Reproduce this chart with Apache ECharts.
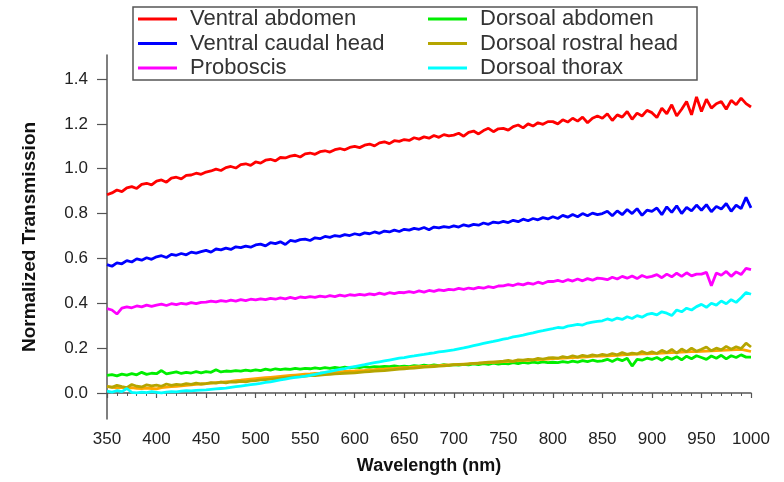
<!DOCTYPE html>
<html>
<head>
<meta charset="utf-8">
<script src="https://cdn.jsdelivr.net/npm/echarts@6/dist/echarts.min.js"></script>
<style>
  html, body { margin: 0; padding: 0; background: #fff; }
  #chart { width: 784px; height: 482px; }
</style>
</head>
<body>
<div id="chart"></div>
<script>
// sample positions (nm)
const wavelengths = [
    350, 355, 360, 365, 370, 375, 380, 385, 390, 395,
    400, 405, 410, 415, 420, 425, 430, 435, 440, 445,
    450, 455, 460, 465, 470, 475, 480, 485, 490, 495,
    500, 505, 510, 515, 520, 525, 530, 535, 540, 545,
    550, 555, 560, 565, 570, 575, 580, 585, 590, 595,
    600, 605, 610, 615, 620, 625, 630, 635, 640, 645,
    650, 655, 660, 665, 670, 675, 680, 685, 690, 695,
    700, 705, 710, 715, 720, 725, 730, 735, 740, 745,
    750, 755, 760, 765, 770, 775, 780, 785, 790, 795,
    800, 805, 810, 815, 820, 825, 830, 835, 840, 845,
    850, 855, 860, 865, 870, 875, 880, 885, 890, 895,
    900, 905, 910, 915, 920, 925, 930, 935, 940, 945,
    950, 955, 960, 965, 970, 975, 980, 985, 990, 995,
    1000,
];

const ventralAbdomen = [
    0.884, 0.892, 0.905, 0.898, 0.915, 0.92, 0.912, 0.93, 0.935, 0.928,
    0.945, 0.95, 0.94, 0.958, 0.962, 0.955, 0.97, 0.972, 0.98, 0.975,
    0.985, 0.99, 0.998, 0.992, 1.005, 1.01, 1.003, 1.018, 1.022, 1.015,
    1.03, 1.025, 1.038, 1.042, 1.035, 1.05, 1.048, 1.056, 1.06, 1.052,
    1.066, 1.07, 1.064, 1.076, 1.08, 1.074, 1.085, 1.09, 1.084, 1.095,
    1.1, 1.094, 1.105, 1.11, 1.102, 1.115, 1.12, 1.112, 1.125, 1.122,
    1.13, 1.126, 1.138, 1.132, 1.142, 1.136, 1.148, 1.14, 1.152, 1.146,
    1.15, 1.158, 1.145, 1.162, 1.168, 1.155, 1.17, 1.18, 1.165, 1.178,
    1.18, 1.172, 1.188, 1.195, 1.182, 1.2, 1.19, 1.205, 1.198, 1.21,
    1.21, 1.2, 1.218, 1.208, 1.225, 1.212, 1.23, 1.205, 1.225, 1.235,
    1.225, 1.245, 1.215, 1.24, 1.23, 1.255, 1.22, 1.248, 1.235, 1.26,
    1.25, 1.228, 1.27, 1.245, 1.285, 1.235, 1.265, 1.3, 1.24, 1.32,
    1.255, 1.31, 1.27, 1.29, 1.3, 1.265, 1.305, 1.285, 1.315, 1.29,
    1.275,
];

const ventralCaudalHead = [
    0.572, 0.565, 0.58, 0.576, 0.59, 0.584, 0.598, 0.592, 0.603, 0.596,
    0.607, 0.612, 0.604, 0.618, 0.614, 0.622, 0.616, 0.628, 0.624, 0.63,
    0.636, 0.628, 0.642, 0.638, 0.646, 0.64, 0.652, 0.648, 0.655, 0.65,
    0.66, 0.664, 0.656, 0.67, 0.666, 0.674, 0.662, 0.68, 0.676, 0.684,
    0.686, 0.68, 0.692, 0.688, 0.698, 0.694, 0.702, 0.698, 0.706, 0.702,
    0.71, 0.705, 0.714, 0.71, 0.718, 0.712, 0.722, 0.718, 0.726, 0.72,
    0.73, 0.726, 0.734, 0.73, 0.738, 0.728, 0.74, 0.736, 0.742, 0.738,
    0.745, 0.74, 0.75, 0.744, 0.752, 0.748, 0.758, 0.752, 0.762, 0.758,
    0.765, 0.76, 0.77, 0.764, 0.775, 0.768, 0.778, 0.772, 0.782, 0.776,
    0.786, 0.778, 0.792, 0.784, 0.796, 0.786, 0.8, 0.79, 0.802, 0.795,
    0.8, 0.81, 0.79, 0.812, 0.795, 0.818, 0.8, 0.822, 0.792, 0.815,
    0.81, 0.825, 0.795, 0.83, 0.805, 0.835, 0.8, 0.828, 0.812, 0.838,
    0.815, 0.84, 0.808, 0.832, 0.82, 0.845, 0.81, 0.838, 0.822, 0.872,
    0.825,
];

const proboscis = [
    0.376, 0.37, 0.352, 0.378, 0.384, 0.38, 0.388, 0.384, 0.392, 0.386,
    0.392, 0.396, 0.39, 0.398, 0.394, 0.4, 0.396, 0.403, 0.398, 0.404,
    0.405, 0.41, 0.406, 0.412, 0.408, 0.414, 0.41, 0.416, 0.412, 0.418,
    0.415, 0.42, 0.416, 0.422, 0.418, 0.424, 0.42, 0.426, 0.421, 0.428,
    0.425, 0.43, 0.426, 0.432, 0.428, 0.434, 0.43, 0.436, 0.432, 0.438,
    0.435, 0.44, 0.436, 0.442, 0.438, 0.445, 0.44, 0.447, 0.443, 0.449,
    0.447, 0.452, 0.448, 0.455, 0.45, 0.457, 0.453, 0.46, 0.456, 0.462,
    0.46, 0.466, 0.462, 0.468, 0.464, 0.471, 0.467, 0.474, 0.47, 0.477,
    0.478, 0.483, 0.479, 0.487, 0.482, 0.49, 0.485, 0.494, 0.488, 0.497,
    0.497, 0.502, 0.496, 0.505, 0.499, 0.508, 0.5, 0.51, 0.503, 0.512,
    0.51, 0.505, 0.516, 0.508, 0.52, 0.512, 0.522, 0.51, 0.524, 0.515,
    0.52, 0.528, 0.514, 0.53, 0.518, 0.534, 0.52, 0.536, 0.522, 0.53,
    0.53, 0.538, 0.478, 0.535, 0.525, 0.542, 0.52, 0.54, 0.528, 0.556,
    0.55,
];

const dorsoalAbdomen = [
    0.078, 0.082, 0.076, 0.084, 0.08, 0.086, 0.081, 0.092, 0.083, 0.088,
    0.086, 0.1, 0.085, 0.09, 0.094, 0.087, 0.092, 0.089, 0.095, 0.09,
    0.095, 0.092, 0.104, 0.094, 0.098, 0.096, 0.1, 0.097, 0.102, 0.099,
    0.103, 0.1, 0.106, 0.102, 0.108, 0.104, 0.107, 0.105, 0.11, 0.106,
    0.11, 0.108, 0.112, 0.109, 0.113, 0.11, 0.114, 0.111, 0.115, 0.112,
    0.115, 0.113, 0.117, 0.114, 0.118, 0.116, 0.119, 0.117, 0.121, 0.118,
    0.12, 0.118, 0.122, 0.12, 0.124, 0.121, 0.125, 0.122, 0.126, 0.123,
    0.126, 0.124, 0.128, 0.125, 0.13, 0.127, 0.131, 0.128, 0.133, 0.129,
    0.132, 0.13, 0.135, 0.131, 0.136, 0.133, 0.138, 0.134, 0.139, 0.135,
    0.137, 0.135, 0.14, 0.136, 0.142, 0.138, 0.144, 0.14, 0.146, 0.141,
    0.143, 0.15, 0.14, 0.152, 0.144, 0.155, 0.12, 0.15, 0.146, 0.155,
    0.15, 0.158, 0.146, 0.16, 0.15, 0.162, 0.148, 0.164, 0.153, 0.166,
    0.158, 0.15, 0.165, 0.155, 0.168, 0.152, 0.166, 0.158, 0.17, 0.16,
    0.16,
];

const dorsoalRostralHead = [
    0.03, 0.025, 0.034, 0.028, 0.024, 0.038, 0.03, 0.027, 0.036, 0.032,
    0.035, 0.03, 0.04, 0.034, 0.038, 0.036, 0.042, 0.038, 0.044, 0.04,
    0.042, 0.046, 0.044, 0.048, 0.045, 0.05, 0.048, 0.052, 0.05, 0.054,
    0.055, 0.058, 0.06, 0.062, 0.064, 0.066, 0.068, 0.07, 0.072, 0.073,
    0.075, 0.077, 0.078, 0.08, 0.082, 0.083, 0.085, 0.086, 0.088, 0.089,
    0.09, 0.092, 0.094, 0.095, 0.097, 0.099, 0.1, 0.102, 0.104, 0.106,
    0.108, 0.11, 0.111, 0.113, 0.115, 0.116, 0.118, 0.12, 0.121, 0.123,
    0.125, 0.127, 0.128, 0.13, 0.132, 0.133, 0.135, 0.137, 0.138, 0.14,
    0.142, 0.145, 0.141, 0.148, 0.146, 0.15, 0.148, 0.154, 0.151, 0.156,
    0.158, 0.155, 0.162, 0.158, 0.166, 0.16, 0.168, 0.163, 0.17, 0.166,
    0.172, 0.168, 0.176, 0.17, 0.18, 0.172, 0.178, 0.174, 0.185, 0.176,
    0.183, 0.176, 0.19, 0.18, 0.194, 0.178, 0.196, 0.184, 0.2, 0.186,
    0.195, 0.205, 0.188, 0.2, 0.192, 0.208, 0.195, 0.206, 0.198, 0.222,
    0.205,
];

// unlabelled orange trace lying under the rostral head curve
const orangeTrace = [
    0.028, 0.026, 0.022, 0.025, 0.02, 0.024, 0.021, 0.019, 0.022, 0.02,
    0.018, 0.024, 0.026, 0.028, 0.03, 0.032, 0.034, 0.036, 0.038, 0.04,
    0.042, 0.044, 0.046, 0.048, 0.05, 0.052, 0.055, 0.057, 0.06, 0.062,
    0.064, 0.066, 0.068, 0.07, 0.072, 0.074, 0.076, 0.078, 0.08, 0.082,
    0.084, 0.085, 0.087, 0.088, 0.09, 0.091, 0.093, 0.094, 0.096, 0.097,
    0.098, 0.1, 0.101, 0.103, 0.104, 0.106, 0.107, 0.109, 0.11, 0.112,
    0.113, 0.114, 0.116, 0.117, 0.118, 0.12, 0.121, 0.122, 0.124, 0.125,
    0.126, 0.128, 0.129, 0.13, 0.132, 0.133, 0.134, 0.136, 0.137, 0.138,
    0.14, 0.141, 0.142, 0.144, 0.145, 0.146, 0.148, 0.149, 0.15, 0.151,
    0.153, 0.154, 0.155, 0.157, 0.158, 0.159, 0.16, 0.161, 0.163, 0.164,
    0.165, 0.166, 0.167, 0.168, 0.17, 0.171, 0.172, 0.173, 0.174, 0.175,
    0.176, 0.177, 0.178, 0.179, 0.18, 0.181, 0.182, 0.183, 0.184, 0.185,
    0.186, 0.187, 0.188, 0.189, 0.19, 0.191, 0.192, 0.193, 0.194, 0.19,
    0.185,
];

const dorsoalThorax = [
    0.008, 0.004, 0.01, 0.006, 0.02, 0.003, 0.0, 0.004, 0.002, 0.006,
    0.003, 0.0, 0.004, 0.006, 0.005, 0.008, 0.01, 0.009, 0.012, 0.013,
    0.014, 0.016, 0.018, 0.02, 0.022, 0.025, 0.028, 0.031, 0.034, 0.037,
    0.04, 0.043, 0.047, 0.05, 0.054, 0.058, 0.062, 0.066, 0.07, 0.072,
    0.075, 0.079, 0.083, 0.088, 0.092, 0.096, 0.101, 0.105, 0.109, 0.114,
    0.118, 0.122, 0.126, 0.131, 0.135, 0.139, 0.143, 0.147, 0.151, 0.155,
    0.158, 0.162, 0.165, 0.169, 0.172, 0.176, 0.179, 0.183, 0.186, 0.189,
    0.192, 0.197, 0.201, 0.206, 0.211, 0.216, 0.221, 0.226, 0.23, 0.235,
    0.24, 0.244, 0.25, 0.254, 0.258, 0.264, 0.268, 0.274, 0.278, 0.283,
    0.287, 0.292, 0.29, 0.298, 0.302, 0.306, 0.303, 0.312, 0.316, 0.319,
    0.322, 0.33, 0.324, 0.334, 0.328, 0.34, 0.332, 0.345, 0.338, 0.35,
    0.355, 0.348, 0.362, 0.356, 0.345, 0.37, 0.362, 0.378, 0.37, 0.385,
    0.395, 0.382, 0.4, 0.392, 0.41, 0.398, 0.416, 0.404, 0.425, 0.448,
    0.44,
];

const yTicks = [0, 0.2, 0.4, 0.6, 0.8, 1.0, 1.2, 1.4];

const legendLeft = ['Ventral abdomen', 'Ventral caudal head', 'Proboscis'];
const legendRight = ['Dorsoal abdomen', 'Dorsoal rostral head', 'Dorsoal thorax'];

const FONT = '"Liberation Sans", Arial, Helvetica, sans-serif';

function pairs(values) {
    return wavelengths.map((w, i) => [w, values[i]]);
}

function lineSeries(name, values, color) {
    return {
        name: name,
        type: 'line',
        data: pairs(values),
        showSymbol: false,
        symbol: 'none',
        lineStyle: {color: color, width: 2.8},
        itemStyle: {color: color},
        emphasis: {disabled: true},
    };
}

function legendStyle(left, names) {
    return {
        data: names,
        orient: 'vertical',
        left: left,
        top: 7,
        padding: 0,
        icon: 'rect',
        itemWidth: 39,
        itemHeight: 3,
        itemGap: 0.5,
        selectedMode: false,
        textStyle: {
            fontFamily: FONT,
            fontSize: 22,
            color: '#333',
            lineHeight: 24,
            padding: [0, 0, 0, 8],
        },
    };
}

const chart = echarts.init(document.getElementById('chart'));

const option = {
    animation: false,
    backgroundColor: '#fff',
    textStyle: {fontFamily: FONT},
    grid: {left: 107, right: 33, top: 55, bottom: 63},
    legend: [
        legendStyle(138, legendLeft),
        legendStyle(428, legendRight),
    ],
    graphic: [
        {
            type: 'rect',
            shape: {x: 133, y: 7, width: 564, height: 73},
            style: {fill: 'none', stroke: '#555', lineWidth: 1.5},
            z: 10,
        },
    ],
    xAxis: {
        type: 'value',
        min: 350,
        max: 1000,
        interval: 50,
        name: 'Wavelength (nm)',
        nameLocation: 'middle',
        nameGap: 38,
        nameTextStyle: {fontFamily: FONT, fontSize: 18, fontWeight: 'bold', color: '#111'},
        axisLine: {lineStyle: {color: '#555', width: 1.5}},
        axisTick: {show: true, inside: false, length: 5, lineStyle: {color: '#555', width: 1.2}},
        minorTick: {show: true, splitNumber: 5, length: 3, lineStyle: {color: '#555', width: 1}},
        axisLabel: {
            fontFamily: FONT,
            fontSize: 17,
            color: '#222',
            margin: 12,
            formatter: (v) => String(v),
        },
        splitLine: {show: false},
    },
    yAxis: {
        type: 'value',
        min: -0.116,
        max: 1.507,
        name: 'Normalized Transmission',
        nameLocation: 'middle',
        nameGap: 68,
        nameTextStyle: {fontFamily: FONT, fontSize: 19, fontWeight: 'bold', color: '#111'},
        axisLine: {show: true, lineStyle: {color: '#555', width: 1.5}},
        axisTick: {show: true, inside: false, length: 10, customValues: yTicks, lineStyle: {color: '#555', width: 1.2}},
        axisLabel: {
            fontFamily: FONT,
            fontSize: 17,
            color: '#222',
            margin: 19,
            customValues: yTicks,
            formatter: (v) => v.toFixed(1),
        },
        splitLine: {show: false},
    },
    series: [
        lineSeries('Ventral abdomen', ventralAbdomen, '#ff0000'),
        lineSeries('Ventral caudal head', ventralCaudalHead, '#0000ff'),
        lineSeries('Proboscis', proboscis, '#ff00ff'),
        lineSeries('Dorsoal abdomen', dorsoalAbdomen, '#00ee00'),
        lineSeries('Orange trace', orangeTrace, '#ffa500'),
        lineSeries('Dorsoal rostral head', dorsoalRostralHead, '#b5a500'),
        lineSeries('Dorsoal thorax', dorsoalThorax, '#00ffff'),
    ],
};

chart.setOption(option);

window.addEventListener('resize', () => {
    chart.resize();
});
</script>
</body>
</html>
